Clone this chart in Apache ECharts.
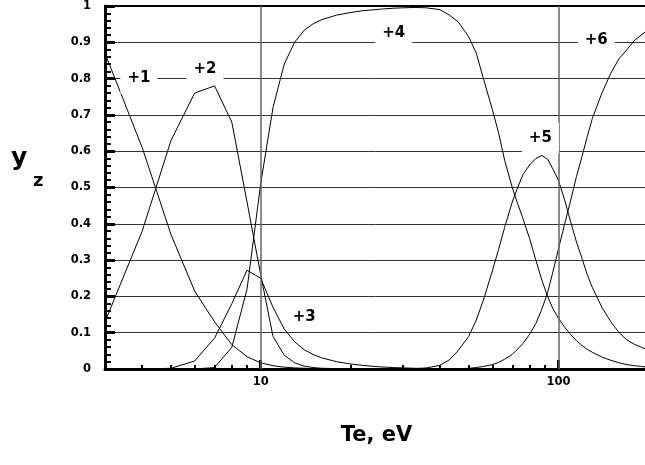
<!DOCTYPE html>
<html>
<head>
<meta charset="utf-8">
<script src="https://cdn.jsdelivr.net/npm/echarts@6/dist/echarts.min.js"></script>
<style>
  html, body { margin: 0; padding: 0; background: #fff; }
  #container { width: 645px; height: 465px; }
</style>
</head>
<body>
<div id="container"></div>
<script>
// electron temperature grid, eV
var te = [3, 4, 5, 6, 7, 8, 9, 10, 11, 12,
          13, 14, 15, 16, 18, 20, 22, 25, 28, 30,
          33, 36, 40, 43, 46, 50, 53, 56, 60, 63,
          66, 70, 73, 76, 80, 84, 88, 92, 96, 100,
          105, 110, 115, 120, 125, 130, 140, 150, 160, 170,
          180, 190, 200];

// ion fractions y_z for each charge state
var z1 = [0.87, 0.61, 0.37, 0.215, 0.13, 0.067, 0.034, 0.017, 0.009, 0.005,
          0.003, 0.002, 0.001, 0.001, 0, 0, 0, 0, 0, 0,
          0, 0, 0, 0, 0, 0, 0, 0, 0, 0,
          0, 0, 0, 0, 0, 0, 0, 0, 0, 0,
          0, 0, 0, 0, 0, 0, 0, 0, 0, 0,
          0, 0, 0];
var z2 = [0.13, 0.38, 0.63, 0.76, 0.78, 0.68, 0.46, 0.26, 0.09, 0.038,
          0.017, 0.008, 0.004, 0.002, 0.001, 0, 0, 0, 0, 0,
          0, 0, 0, 0, 0, 0, 0, 0, 0, 0,
          0, 0, 0, 0, 0, 0, 0, 0, 0, 0,
          0, 0, 0, 0, 0, 0, 0, 0, 0, 0,
          0, 0, 0];
var z3 = [0, 0, 0.002, 0.022, 0.085, 0.18, 0.272, 0.25, 0.17, 0.11,
          0.075, 0.053, 0.04, 0.031, 0.02, 0.014, 0.01, 0.006, 0.004, 0.003,
          0.002, 0.001, 0, 0, 0, 0, 0, 0, 0, 0,
          0, 0, 0, 0, 0, 0, 0, 0, 0, 0,
          0, 0, 0, 0, 0, 0, 0, 0, 0, 0,
          0, 0, 0];
var z4 = [0, 0, 0, 0, 0.004, 0.06, 0.22, 0.51, 0.72, 0.84,
          0.90, 0.933, 0.951, 0.962, 0.975, 0.982, 0.987, 0.991, 0.994, 0.995,
          0.996, 0.995, 0.99, 0.975, 0.957, 0.915, 0.87, 0.80, 0.715, 0.65,
          0.575, 0.50, 0.455, 0.415, 0.36, 0.30, 0.245, 0.20, 0.165, 0.14,
          0.115, 0.095, 0.078, 0.065, 0.054, 0.046, 0.033, 0.024, 0.017, 0.012,
          0.009, 0.007, 0.005];
var z5 = [0, 0, 0, 0, 0, 0, 0, 0, 0, 0,
          0, 0, 0, 0, 0, 0, 0, 0, 0, 0,
          0.001, 0.003, 0.01, 0.025, 0.05, 0.09, 0.135, 0.19, 0.27, 0.33,
          0.39, 0.46, 0.50, 0.535, 0.562, 0.58, 0.588, 0.578, 0.55, 0.52,
          0.465, 0.405, 0.35, 0.305, 0.26, 0.225, 0.17, 0.13, 0.10, 0.08,
          0.068, 0.06, 0.052];
var z6 = [0, 0, 0, 0, 0, 0, 0, 0, 0, 0,
          0, 0, 0, 0, 0, 0, 0, 0, 0, 0,
          0, 0, 0, 0, 0, 0.002, 0.004, 0.007, 0.012, 0.018,
          0.027, 0.04, 0.055, 0.07, 0.095, 0.125, 0.165, 0.21, 0.27, 0.33,
          0.40, 0.465, 0.53, 0.585, 0.64, 0.69, 0.76, 0.815, 0.855, 0.88,
          0.905, 0.92, 0.935];

// curve labels and where they sit (Te, y_z)
var ionNames = ['+1', '+2', '+3', '+4', '+5', '+6'];
var labelTe = [3.9, 6.5, 14, 28, 87, 134];
var labelZ = [0.80, 0.825, 0.143, 0.926, 0.636, 0.907];

// x axis ticks (eV)
var xMajor = [10, 100];
var xMinor = [4, 5, 6, 7, 8, 9, 20, 30, 40, 50, 60, 70, 80, 90];
var teMin = 3, teMax = 200;

var lg = function (v) { return Math.log10(v); };
var font = 'DejaVu Sans';

var dom = document.getElementById('container');
var myChart = echarts.init(dom, null, { renderer: 'canvas' });

var ions = [z1, z2, z3, z4, z5, z6];
var series = ions.map(function (ys, k) {
  return {
    type: 'line',
    name: ionNames[k],
    data: te.map(function (t, i) { return [lg(t), ys[i]]; }),
    symbol: 'none',
    silent: true,
    lineStyle: { color: '#000', width: 1 },
    z: 3
  };
});

// vertical grid lines at the decades
series[0].markLine = {
  silent: true,
  symbol: 'none',
  label: { show: false },
  lineStyle: { color: '#666', width: 1.5, type: 'solid' },
  data: xMajor.map(function (v) { return { xAxis: lg(v) }; })
};

// +1 ... +6 labels, white boxes break the grid lines
series.push({
  type: 'scatter',
  silent: true,
  symbolSize: 0,
  z: 10,
  itemStyle: { color: '#fff', opacity: 0 },
  emphasis: { disabled: true },
  data: ionNames.map(function (n, i) {
    return {
      name: n,
      value: [lg(labelTe[i]), labelZ[i]],
      label: { backgroundColor: n === '+3' ? 'transparent' : '#fff' }
    };
  }),
  label: {
    show: true,
    position: 'inside',
    formatter: '{b}',
    color: '#000',
    opacity: 1,
    textBorderWidth: 0,
    fontFamily: font,
    fontWeight: 'bold',
    fontSize: 15,
    padding: [8, 7, 8, 7]
  }
});

var option = {
  animation: false,
  backgroundColor: '#fff',
  grid: { left: 105, top: 6, width: 543, height: 363, outerBoundsMode: 'none' },
  xAxis: [
    {
      type: 'value',
      position: 'bottom',
      min: lg(teMin),
      max: lg(teMax),
      axisLine: { onZero: false, lineStyle: { color: '#000', width: 3 } },
      axisTick: {
        inside: true, length: 4,
        customValues: xMinor.map(lg),
        lineStyle: { color: '#000', width: 2 }
      },
      axisLabel: {
        customValues: xMajor.map(lg),
        formatter: function (v) { return String(Math.round(Math.pow(10, v))); },
        color: '#000', fontFamily: font, fontWeight: 'bold', fontSize: 11.5, margin: 7
      },
      splitLine: { show: false },
      name: 'Te, eV',
      nameLocation: 'middle',
      nameGap: 56,
      nameTextStyle: { color: '#000', fontFamily: font, fontWeight: 'bold', fontSize: 21 }
    },
    {
      type: 'value',
      position: 'bottom',
      min: lg(teMin),
      max: lg(teMax),
      axisLine: { show: false, onZero: false },
      axisTick: {
        inside: true, length: 9,
        customValues: xMajor.map(lg),
        lineStyle: { color: '#000', width: 3 }
      },
      axisLabel: { show: false },
      splitLine: { show: false }
    },
    {
      type: 'value',
      position: 'top',
      min: lg(teMin),
      max: lg(teMax),
      axisLine: { onZero: false, lineStyle: { color: '#000', width: 2 } },
      axisTick: { show: false },
      axisLabel: { show: false },
      splitLine: { show: false }
    }
  ],
  yAxis: {
    type: 'value',
    min: 0,
    max: 1,
    interval: 0.1,
    axisLine: { show: true, lineStyle: { color: '#000', width: 3 } },
    axisTick: { inside: true, length: 10, lineStyle: { color: '#000', width: 3 } },
    minorTick: { show: true, splitNumber: 5, length: 6, lineStyle: { color: '#000', width: 2 } },
    splitLine: { show: true, lineStyle: { color: '#333', width: 1 } },
    axisLabel: { color: '#000', fontFamily: font, fontWeight: 'bold', fontSize: 11.5, margin: 14 }
  },
  graphic: [
    { type: 'text', left: 11, top: 146, style: { text: 'y', fill: '#000', font: 'bold 25px "DejaVu Sans"' } },
    { type: 'text', left: 33, top: 172, style: { text: 'z', fill: '#000', font: 'bold 18px "DejaVu Sans"' } }
  ],
  series: series
};

myChart.setOption(option);
window.addEventListener('resize', myChart.resize);
</script>
</body>
</html>
